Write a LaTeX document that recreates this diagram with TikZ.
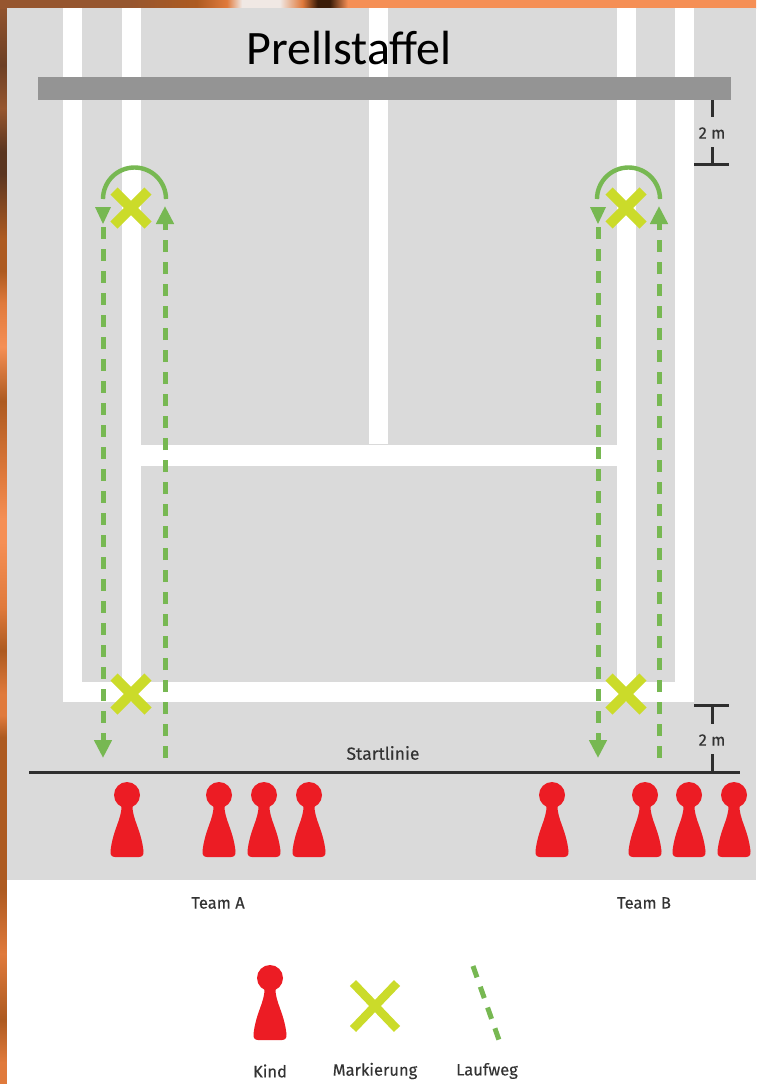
\documentclass[tikz,border=0pt]{standalone}
\usepackage{fontspec}
\setmainfont{Fira Sans}[FakeBold=0.25]
\newfontfamily\titlefont{Carlito}
\usetikzlibrary{arrows.meta, positioning}
\definecolor{figfield}{HTML}{DADADA}
\definecolor{figbar}{HTML}{949494}
\definecolor{figgreen}{HTML}{77B852}
\definecolor{figmark}{HTML}{CBDB2A}
\definecolor{figred}{HTML}{EC1C24}
\definecolor{figline}{HTML}{2E2E2E}
\definecolor{edgedark}{HTML}{5A3520}
\definecolor{edgebrown}{HTML}{96562F}
\definecolor{edgerust}{HTML}{AD5A20}
\definecolor{edgeorange}{HTML}{E07A3C}
\definecolor{edgepeach}{HTML}{F58F55}
\definecolor{edgepale}{HTML}{F0E8E4}
\definecolor{edgeblack}{HTML}{3A1C08}
\pgfdeclareverticalshading{figedgeleft}{100bp}{
  color(0bp)=(edgeorange);
  color(26bp)=(edgeorange);
  color(28bp)=(edgerust);
  color(31bp)=(edgeorange);
  color(34bp)=(edgerust);
  color(38bp)=(edgerust);
  color(41bp)=(edgerust);
  color(42bp)=(edgeorange);
  color(43bp)=(edgeorange);
  color(45bp)=(edgerust);
  color(47bp)=(edgeorange);
  color(50bp)=(edgepeach);
  color(51bp)=(edgepeach);
  color(53bp)=(edgeorange);
  color(56.5bp)=(edgerust);
  color(59bp)=(edgepeach);
  color(61bp)=(edgeorange);
  color(62.5bp)=(edgerust);
  color(64bp)=(edgerust);
  color(67bp)=(edgedark);
  color(68bp)=(edgedark);
  color(70bp)=(edgebrown);
  color(72bp)=(edgedark!70!edgebrown);
  color(75bp)=(edgebrown);
  color(100bp)=(edgebrown)}
\pgfdeclarehorizontalshading{figedgetop}{100bp}{
  color(0bp)=(edgebrown);
  color(33.5bp)=(edgebrown);
  color(38bp)=(edgerust);
  color(40bp)=(edgeorange);
  color(41bp)=(edgepale);
  color(43.5bp)=(edgepale);
  color(45bp)=(edgeorange);
  color(46bp)=(edgeblack);
  color(46.8bp)=(edgeblack);
  color(48bp)=(edgepeach);
  color(100bp)=(edgepeach)}
\tikzset{
  figlabel/.style={font=\fontsize{16.5}{18}\selectfont, text=black!80, align=center, inner sep=0pt},
  figcourt/.style={fill=white, draw=none},
  figdash/.style={figgreen, line width=5pt, dash pattern=on 12pt off 10pt},
  figdasharrow/.style={figdash, -{Triangle[length=18pt, width=17pt]}},
  figturn/.style={figgreen, line width=4.4pt},
  figdim/.style={figline, line width=3pt},
  kindpawn/.pic={
    \fill[figred] (0,0) circle (13);
    \fill[figred] (-12,62) .. controls (-15,62) and (-17,60) .. (-16.5,56)
      .. controls (-14,34) and (-5,24) .. (-5.5,10) -- (5.5,10)
      .. controls (5,24) and (14,34) .. (16.5,56)
      .. controls (17,60) and (15,62) .. (12,62) -- cycle;
  },
  markcross/.pic={
    \draw[figmark, line width=10pt] (-17,-17) -- (17,17) (-17,17) -- (17,-17);
  },
}
\begin{document}
\begin{tikzpicture}[x=1pt, y=-1pt]
  \useasboundingbox (0,0) rectangle (756,1084);
  \shade[shading=figedgeleft] (0,0) rectangle (7,1084);
  \shade[shading=figedgetop] (0,0) rectangle (756,8);
  \fill[white] (7,880) rectangle (756,1084);
  \fill[figfield] (7,8) rectangle (756,880);

  \fill[figcourt] (63,8) rectangle (82,702);
  \fill[figcourt] (122,8) rectangle (141,702);
  \fill[figcourt] (369,8) rectangle (388,444);
  \fill[figcourt] (617,8) rectangle (636,702);
  \fill[figcourt] (675,8) rectangle (694,702);
  \fill[figcourt] (63,682) rectangle (694,702);
  \fill[figcourt] (141,445) rectangle (617,466);
  \fill[figbar] (38,77) rectangle (731,100);

  \node[font=\titlefont\fontsize{48}{52}\selectfont, inner sep=0pt] (title) at (349,48) {Prellstaffel};

  \pic at (131,208) {markcross};
  \pic at (131,694) {markcross};
  \pic at (626,208) {markcross};
  \pic at (626,694) {markcross};

  \coordinate (awayA) at (103,227);
  \coordinate (backA) at (103,758);
  \coordinate (startA) at (165,758);
  \coordinate (turnA) at (165,206);
  \coordinate (awayB) at (598,227);
  \coordinate (backB) at (598,758);
  \coordinate (startB) at (659,758);
  \coordinate (turnB) at (659,206);

  \draw[figdasharrow] (awayA) -- (backA);
  \draw[figdasharrow] (startA) -- (turnA);
  \draw[figdasharrow] (awayB) -- (backB);
  \draw[figdasharrow] (startB) -- (turnB);
  \fill[figgreen] (95,207) -- (111,207) -- (103,224) -- cycle;
  \fill[figgreen] (590,207) -- (606,207) -- (598,224) -- cycle;
  \draw[figturn] (103,199) arc (180:360:31.5);
  \draw[figturn] (597,199) arc (180:360:31.5);

  \draw[figline, line width=3pt] (29,772) -- (740,772);
  \node[figlabel, font=\fontsize{17.5}{19}\selectfont] (start) at (383,753) {Startlinie};

  \coordinate (topbar) at (712,100);
  \coordinate (topend) at (712,164);
  \coordinate (lowend) at (712,705);
  \coordinate (lowline) at (712,772);
  \node[figlabel] (dimtop) at (712,133) {2 m};
  \node[figlabel] (dimlow) at (712,740) {2 m};
  \draw[figdim] (topbar) -- (dimtop.north |- 0,117);
  \draw[figdim] (topend) -- (dimtop.south |- 0,147);
  \draw[figdim] (694,164) -- (729,164);
  \draw[figdim] (lowend) -- (dimlow.north |- 0,724);
  \draw[figdim] (lowline) -- (dimlow.south |- 0,754);
  \draw[figdim] (694,705) -- (729,705);

  \pic at (127,795) {kindpawn};
  \pic at (219,795) {kindpawn};
  \pic at (264,795) {kindpawn};
  \pic at (309,795) {kindpawn};
  \pic at (552,795) {kindpawn};
  \pic at (645,795) {kindpawn};
  \pic at (689,795) {kindpawn};
  \pic at (734,795) {kindpawn};

  \node[figlabel] (teamA) at (218,903) {Team A};
  \node[figlabel] (teamB) at (644,903) {Team B};

  \pic at (270,978) {kindpawn};
  \draw[figmark, line width=8.5pt] (353,983) -- (397,1029) (353,1029) -- (397,983);
  \draw[figdash] (473,966) -- (499,1040);
  \node[figlabel] (kind) at (270,1071) {Kind};
  \node[figlabel] (mark) at (375,1071) {Markierung};
  \node[figlabel] (weg) at (487,1071) {Laufweg};
\end{tikzpicture}
\end{document}
